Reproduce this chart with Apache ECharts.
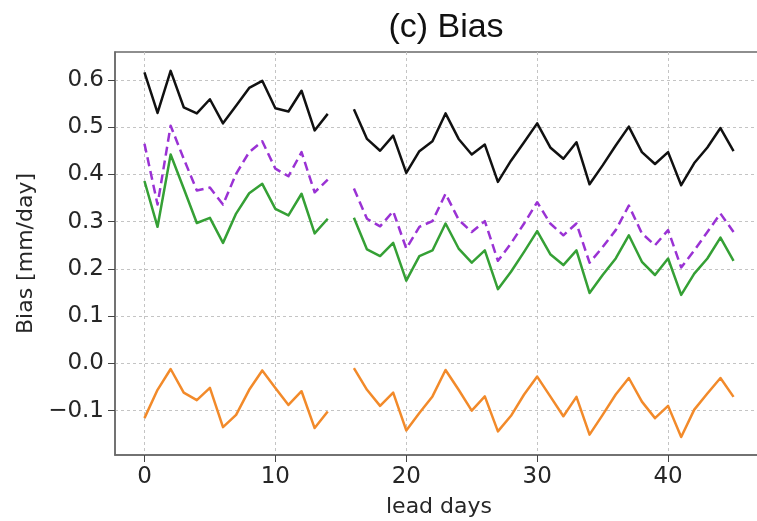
<!DOCTYPE html>
<html>
<head>
<meta charset="utf-8">
<script src="https://cdn.jsdelivr.net/npm/echarts@6/dist/echarts.min.js"></script>
<style>
  html, body { margin: 0; padding: 0; background: #ffffff; }
  #chart { width: 757px; height: 521px; }
</style>
</head>
<body>
<div id="chart"></div>
<script>
// Lead days (day 15 is missing, so every series breaks there)
const leadDays = [0, 1, 2, 3, 4, 5, 6, 7, 8, 9, 10, 11, 12, 13, 14, 15,
  16, 17, 18, 19, 20, 21, 22, 23, 24, 25, 26, 27, 28, 29, 30,
  31, 32, 33, 34, 35, 36, 37, 38, 39, 40, 41, 42, 43, 44, 45];

const biasBlack = [0.616, 0.530, 0.619, 0.542, 0.529, 0.559, 0.508, 0.545, 0.583, 0.598,
  0.540, 0.533, 0.577, 0.493, 0.528, null,
  0.538, 0.475, 0.450, 0.482, 0.403, 0.449, 0.470, 0.529, 0.475, 0.442,
  0.463, 0.384, 0.429, 0.468, 0.508, 0.457, 0.433, 0.468, 0.379, 0.419,
  0.461, 0.501, 0.447, 0.422, 0.447, 0.377, 0.424, 0.457, 0.498, 0.449];

const biasPurple = [0.465, 0.336, 0.503, 0.433, 0.366, 0.372, 0.336, 0.401, 0.447, 0.470,
  0.412, 0.396, 0.447, 0.362, 0.389, null,
  0.370, 0.306, 0.290, 0.322, 0.243, 0.289, 0.301, 0.359, 0.304, 0.278,
  0.301, 0.217, 0.254, 0.296, 0.341, 0.296, 0.271, 0.296, 0.213, 0.246,
  0.282, 0.334, 0.275, 0.250, 0.282, 0.203, 0.239, 0.278, 0.317, 0.278];

const biasGreen = [0.386, 0.289, 0.442, 0.370, 0.297, 0.308, 0.255, 0.317, 0.360, 0.380,
  0.327, 0.313, 0.359, 0.275, 0.306, null,
  0.308, 0.241, 0.227, 0.255, 0.175, 0.227, 0.239, 0.296, 0.243, 0.213,
  0.239, 0.157, 0.194, 0.236, 0.280, 0.231, 0.208, 0.239, 0.149, 0.187,
  0.222, 0.271, 0.215, 0.187, 0.222, 0.145, 0.190, 0.222, 0.266, 0.217];

const biasOrange = [-0.116, -0.056, -0.012, -0.062, -0.078, -0.052, -0.135, -0.109, -0.056, -0.015,
  -0.052, -0.088, -0.059, -0.137, -0.102, null,
  -0.010, -0.056, -0.090, -0.062, -0.142, -0.105, -0.070, -0.014, -0.056, -0.100,
  -0.070, -0.144, -0.111, -0.066, -0.028, -0.070, -0.112, -0.071, -0.151, -0.109,
  -0.066, -0.031, -0.081, -0.116, -0.090, -0.156, -0.098, -0.064, -0.031, -0.071];

const xTicks = [0, 10, 20, 30, 40];
const yTicks = [-0.1, 0.0, 0.1, 0.2, 0.3, 0.4, 0.5, 0.6];

function pairs(values) {
  return leadDays.map((d, i) => [d, values[i] === null ? '-' : values[i]]);
}

const tickFont = { fontFamily: 'DejaVu Sans', fontSize: 23, color: '#262626' };
const gridLine = { show: true, lineStyle: { color: '#c4c4c4', type: [3, 3], width: 1 } };

function lineSeries(values, color, dashed) {
  return {
    type: 'line',
    data: pairs(values),
    showSymbol: false,
    connectNulls: false,
    animation: false,
    lineStyle: { color: color, width: 2.5, type: dashed ? [9, 5] : 'solid', join: 'round' },
    itemStyle: { color: color }
  };
}

const chart = echarts.init(document.getElementById('chart'), null, { renderer: 'canvas' });
chart.setOption({
  backgroundColor: '#ffffff',
  animation: false,
  title: {
    text: '(c) Bias',
    left: 441, top: 6, textAlign: 'center',
    textStyle: { fontFamily: 'Liberation Sans', fontSize: 34, fontWeight: 'normal', color: '#111' }
  },
  // the plot frame runs past the right edge of the canvas
  grid: {
    left: 115, width: 648, top: 52, bottom: 66,
    outerBoundsMode: 'none', containLabel: false,
    show: true, borderColor: '#6a6a6a', borderWidth: 1.5, backgroundColor: 'transparent'
  },
  xAxis: {
    type: 'value',
    min: -2.25, max: 47.25,
    name: 'lead days', nameLocation: 'middle', nameGap: 41,
    nameTextStyle: { fontFamily: 'DejaVu Sans', fontSize: 22, color: '#262626' },
    axisLine: { show: true, onZero: false, lineStyle: { color: '#6a6a6a', width: 1.5 } },
    axisTick: { show: true, length: 7, inside: false, customValues: xTicks, lineStyle: { color: '#444' } },
    axisLabel: Object.assign({ margin: 11, customValues: xTicks, formatter: v => String(v) }, tickFont),
    splitLine: gridLine
  },
  yAxis: {
    type: 'value',
    min: -0.194, max: 0.659,
    name: 'Bias [mm/day]', nameLocation: 'middle', nameGap: 70, nameRotate: 90,
    nameTextStyle: { fontFamily: 'DejaVu Sans', fontSize: 22, color: '#262626' },
    axisLine: { show: true, onZero: false, lineStyle: { color: '#6a6a6a', width: 1.5 } },
    axisTick: { show: true, length: 7, inside: false, customValues: yTicks, lineStyle: { color: '#444' } },
    axisLabel: Object.assign({
      margin: 11, customValues: yTicks,
      formatter: v => (v < 0 ? '\u2212' : '') + Math.abs(v).toFixed(1)
    }, tickFont),
    splitLine: gridLine
  },
  series: [
    lineSeries(biasBlack, '#111111', false),
    lineSeries(biasPurple, '#9a32d4', true),
    lineSeries(biasGreen, '#35a035', false),
    lineSeries(biasOrange, '#f28a2a', false)
  ]
});
</script>
</body>
</html>
